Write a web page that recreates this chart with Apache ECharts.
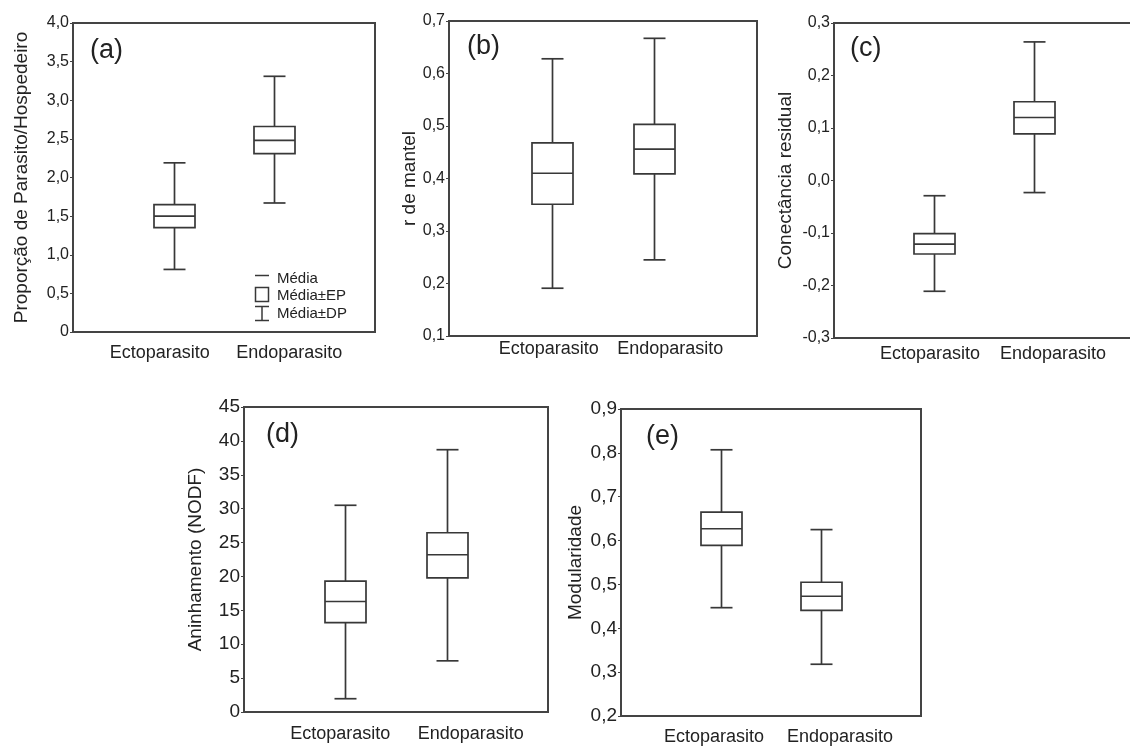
<!DOCTYPE html>
<html lang="pt">
<head>
<meta charset="UTF-8">
<title>Ectoparasitos x Endoparasitos</title>
<script src="https://cdn.jsdelivr.net/npm/echarts@6/dist/echarts.min.js"></script>
<style>
  html, body { margin: 0; background: #fff; }
  #chart { width: 1130px; height: 747px; }
</style>
</head>
<body>
<div id="chart"></div>
<script>
// grupos
var categories = ['Ectoparasito', 'Endoparasito'];

// cada linha: [Média-DP, Média-EP, Média, Média+EP, Média+DP]
var proporcao = [[0.81, 1.35, 1.50, 1.65, 2.19], [1.67, 2.31, 2.48, 2.66, 3.31]];
var mantel = [[0.191, 0.351, 0.410, 0.468, 0.628], [0.245, 0.409, 0.456, 0.503, 0.667]];
var conectancia = [[-0.211, -0.140, -0.121, -0.101, -0.029], [-0.023, 0.089, 0.120, 0.150, 0.264]];
var nodf = [[1.96, 13.2, 16.3, 19.3, 30.5], [7.55, 19.8, 23.2, 26.45, 38.7]];
var modularidade = [[0.447, 0.589, 0.627, 0.665, 0.807], [0.318, 0.441, 0.473, 0.505, 0.625]];

// eixos y: [min, max, intervalo]
var eixoA = [0, 4, 0.5];
var eixoB = [0.1, 0.7, 0.1];
var eixoC = [-0.3, 0.3, 0.1];
var eixoD = [0, 45, 5];
var eixoE = [0.2, 0.9, 0.1];

var nomes = ['Proporção de Parasito/Hospedeiro', 'r de mantel', 'Conectância residual',
             'Aninhamento (NODF)', 'Modularidade'];
var letras = ['(a)', '(b)', '(c)', '(d)', '(e)'];
var legendaTxt = ['Média', 'Média±EP', 'Média±DP'];

var FONT = 'Liberation Sans, Arial, sans-serif';
var COR = '#383838';

var chart = echarts.init(document.getElementById('chart'));

// formata 0.5 -> "0,5"
function fmt(dec, zeroTxt) {
  return function (v) {
    if (Math.abs(v) < 1e-9) return zeroTxt;
    return v.toFixed(dec).replace('.', ',');
  };
}

function renderBox(params, api) {
  var c = api.value(0);
  var pLo = api.coord([c, api.value(1)]);
  var pQ1 = api.coord([c, api.value(2)]);
  var pMe = api.coord([c, api.value(3)]);
  var pQ3 = api.coord([c, api.value(4)]);
  var pHi = api.coord([c, api.value(5)]);
  var x = Math.round(pMe[0]) + 0.5;
  var hw = 20.5, cw = 11;
  var st = { stroke: COR, lineWidth: 1.7, fill: null };
  return {
    type: 'group',
    children: [
      { type: 'line', shape: { x1: x, y1: pHi[1], x2: x, y2: pQ3[1] }, style: st },
      { type: 'line', shape: { x1: x, y1: pQ1[1], x2: x, y2: pLo[1] }, style: st },
      { type: 'line', shape: { x1: x - cw, y1: pHi[1], x2: x + cw, y2: pHi[1] }, style: st },
      { type: 'line', shape: { x1: x - cw, y1: pLo[1], x2: x + cw, y2: pLo[1] }, style: st },
      { type: 'rect', shape: { x: x - hw, y: pQ3[1], width: 2 * hw, height: pQ1[1] - pQ3[1] },
        style: { stroke: COR, lineWidth: 1.7, fill: '#fff' } },
      { type: 'line', shape: { x1: x - hw, y1: pMe[1], x2: x + hw, y2: pMe[1] }, style: st }
    ]
  };
}

// posição dos painéis [left, top, width, height], deslocamento e margem dos rótulos x
var paineis = [
  { box: [73, 23, 302, 309], eixo: eixoA, dados: proporcao, f: fmt(1, '0'), tick: 16, gap: 42, shift: [-14, 15], mx: 12 },
  { box: [449, 21, 308, 315], eixo: eixoB, dados: mantel, f: fmt(1, '0,0'), tick: 16, gap: 21, shift: [-3, 16], mx: 4 },
  { box: [834, 23, 300, 315], eixo: eixoC, dados: conectancia, f: fmt(1, '0,0'), tick: 16, gap: 39, shift: [-4, 19], mx: 7 },
  { box: [244, 407, 304, 305], eixo: eixoD, dados: nodf, f: fmt(0, '0'), tick: 19, gap: 39, shift: [-5, 24], mx: 13 },
  { box: [621, 409, 300, 307], eixo: eixoE, dados: modularidade, f: fmt(1, '0,0'), tick: 19, gap: 36, shift: [-7, 19], mx: 12 }
];

var grid = [], xAxis = [], yAxis = [], series = [], graphic = [];

paineis.forEach(function (p, i) {
  grid.push({
    left: p.box[0], top: p.box[1], width: p.box[2], height: p.box[3],
    outerBoundsMode: 'none', containLabel: false,
    show: true, borderColor: '#444', borderWidth: 2, backgroundColor: 'transparent'
  });
  var sh = p.shift;
  xAxis.push({
    type: 'value', gridIndex: i, min: 0, max: 3, interval: 1,
    axisLine: { show: true, onZero: false, lineStyle: { color: '#444', width: 2 } },
    axisTick: { show: false },
    splitLine: { show: false },
    axisLabel: {
      margin: p.mx,
      formatter: function (v) {
        if (v === 1) return '{l|' + categories[0] + '}';
        if (v === 2) return '{r|' + categories[1] + '}';
        return '';
      },
      rich: {
        l: { fontFamily: FONT, fontSize: 18, color: '#222', padding: [0, Math.max(0, -2 * sh[0]), 0, Math.max(0, 2 * sh[0])] },
        r: { fontFamily: FONT, fontSize: 18, color: '#222', padding: [0, Math.max(0, -2 * sh[1]), 0, Math.max(0, 2 * sh[1])] }
      }
    }
  });
  yAxis.push({
    type: 'value', gridIndex: i,
    min: p.eixo[0], max: p.eixo[1], interval: p.eixo[2],
    name: nomes[i], nameLocation: 'middle', nameGap: p.gap,
    nameTextStyle: { fontFamily: FONT, fontSize: 19, color: '#222' },
    axisLine: { show: true, onZero: false, lineStyle: { color: '#444', width: 2 } },
    axisTick: { show: true, length: 3, lineStyle: { color: '#444' } },
    splitLine: { show: false },
    axisLabel: { margin: 4, fontFamily: FONT, fontSize: p.tick, color: '#222', formatter: p.f }
  });
  series.push({
    type: 'custom', xAxisIndex: i, yAxisIndex: i,
    renderItem: renderBox,
    encode: { x: 0, y: [1, 2, 3, 4, 5] },
    data: p.dados.map(function (d, k) { return [k + 1].concat(d); }),
    silent: true
  });
});

// letras dos painéis
var posLetra = [[90, 49], [467, 45], [850, 47], [266, 433], [646, 435]];
letras.forEach(function (t, i) {
  graphic.push({
    type: 'text', left: posLetra[i][0], top: posLetra[i][1] - 12,
    style: { text: t, font: '27px ' + FONT, fill: '#222' }
  });
});

// legenda do painel (a)
var ls = { stroke: COR, lineWidth: 1.5, fill: null };
graphic.push(
  { type: 'line', shape: { x1: 255, y1: 275.5, x2: 269, y2: 275.5 }, style: ls },
  { type: 'rect', shape: { x: 255.5, y: 287.5, width: 13, height: 14 }, style: ls },
  { type: 'line', shape: { x1: 255, y1: 306.5, x2: 269, y2: 306.5 }, style: ls },
  { type: 'line', shape: { x1: 262, y1: 306.5, x2: 262, y2: 320.5 }, style: ls },
  { type: 'line', shape: { x1: 255, y1: 320.5, x2: 269, y2: 320.5 }, style: ls }
);
legendaTxt.forEach(function (t, i) {
  graphic.push({
    type: 'text', left: 277, top: [271, 288, 306][i],
    style: { text: t, font: '15px ' + FONT, fill: '#222' }
  });
});

chart.setOption({
  animation: false,
  backgroundColor: '#fff',
  grid: grid,
  xAxis: xAxis,
  yAxis: yAxis,
  series: series,
  graphic: graphic
});
</script>
</body>
</html>
